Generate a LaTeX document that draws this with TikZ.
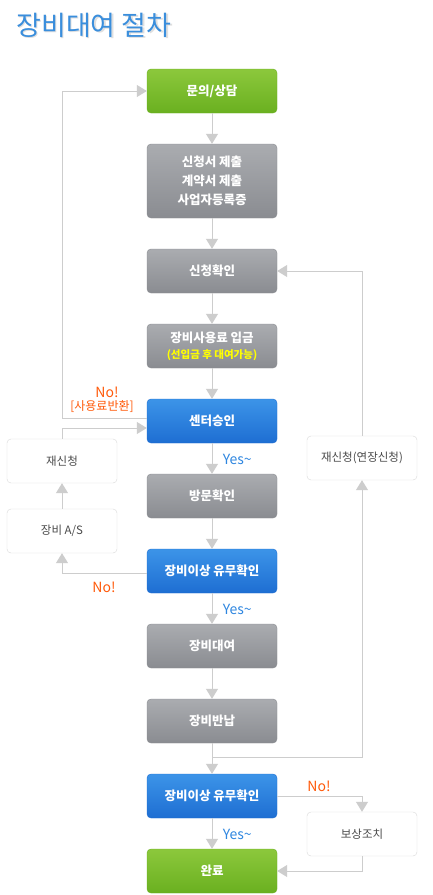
\documentclass[tikz,border=0pt]{standalone}
\usepackage{fontspec}
\setmainfont{Noto Sans CJK KR}
\usetikzlibrary{positioning}
\usetikzlibrary{arrows.meta}
\definecolor{greentop}{HTML}{8CC83C}
\definecolor{greenbot}{HTML}{6AB020}
\definecolor{graytop}{HTML}{AAACB0}
\definecolor{graybot}{HTML}{8A8C91}
\definecolor{bluetop}{HTML}{3C94E8}
\definecolor{bluebot}{HTML}{1E6ED2}
\definecolor{sideline}{HTML}{DADADA}
\definecolor{sidetext}{HTML}{4A4A4A}
\definecolor{edgegray}{HTML}{CDCDCD}
\definecolor{nored}{HTML}{FF5A0A}
\definecolor{yesblue}{HTML}{2E86E0}
\definecolor{titleblue}{HTML}{3A8EDC}
\definecolor{yel}{HTML}{FFFF00}
\tikzset{
    box/.style = {rectangle, rounded corners=4pt, minimum width=130pt, minimum height=44pt, align=center, text=white, font=\fontsize{12.5}{19}\selectfont\bfseries},
    greennode/.style = {box, top color=greentop, bottom color=greenbot, draw=greenbot},
    graynode/.style = {box, top color=graytop, bottom color=graybot, draw=graybot},
    bluenode/.style = {box, top color=bluetop, bottom color=bluebot, draw=bluebot},
    sidenode/.style = {rectangle, rounded corners=4pt, minimum width=110pt, minimum height=44pt, draw=sideline, fill=white, text=sidetext, font=\fontsize{11.5}{13}\selectfont},
    edgen/.style = {-{Triangle[width=12pt,length=10pt]}, line width=1pt, color=edgegray},
    no/.style = {text=nored, font=\fontsize{14}{16}\selectfont},
    yes/.style = {text=yesblue, font=\fontsize{14}{16}\selectfont, anchor=west, xshift=7pt, yshift=-1pt},
    title/.style = {font=\fontsize{27}{30}\selectfont, text=titleblue}
}
\begin{document}
\begin{tikzpicture}[x=1pt,y=-1pt]
\fill[white] (0,0) rectangle (432,895);
\useasboundingbox (0,0) rectangle (432,895);

\node[title, text=gray!25] at (95.5,26.5) (titleshadow) {장비대여 절차};
\node[title] at (94,25) (title) {장비대여 절차};

\node[greennode] at (212, 91) (1) {문의/상담};
\node[graynode, minimum height=74pt] at (212,181) (2) {신청서 제출\\계약서 제출\\사업자등록증};
\node[graynode] at (212,271) (3) {신청확인};
\node[graynode, font=\fontsize{12.5}{16}\selectfont\bfseries] at (212,346) (4) {장비사용료 입금\\{\color{yel}\fontsize{10.5}{12}\selectfont (선입금 후 대여가능)}};
\node[bluenode] at (212,421) (5) {센터승인};
\node[graynode] at (212,496) (6) {방문확인};
\node[bluenode] at (212,571) (7) {장비이상 유무확인};
\node[graynode] at (212,646) (8) {장비대여};
\node[graynode] at (212,721) (9) {장비반납};
\node[bluenode] at (212,796) (10) {장비이상 유무확인};
\node[greennode] at (212,871) (11) {완료};

\node[sidenode] at ( 62,461) (re) {재신청};
\node[sidenode] at ( 62,531) (as) {장비 A/S};
\node[sidenode] at (362,458) (ext) {재신청(연장신청)};
\node[sidenode] at (362,834) (comp) {보상조치};
\coordinate (join) at (212,757);

\draw[edgen] (1) edge (2);
\draw[edgen] (2) edge (3);
\draw[edgen] (3) edge (4);
\draw[edgen] (4) edge (5);
\draw[edgen] (5) edge node[yes] {Yes\textasciitilde} (6);
\draw[edgen] (6) edge (7);
\draw[edgen] (7) edge node[yes] {Yes\textasciitilde} (8);
\draw[edgen] (8) edge (9);
\draw[edgen] (9) edge (10);
\draw[edgen] (10) edge node[yes] {Yes\textasciitilde} (11);

\draw[edgen] ([yshift=3pt]5.west) -- ([yshift=3pt]5.west -| re.north) |- (1.west);
\draw[edgen] (re.north) |- ([yshift=-7pt]5.west);
\draw[edgen] (as) -- (re);
\draw[edgen] ([yshift=-2pt]7.west) -| (as.south);
\draw[edgen] (join) -| (ext.south);
\draw[edgen] (ext.north) |- (3.east);
\draw[edgen] (10.east) -| (comp.north);
\draw[edgen] (comp.south) |- (11.east);

\node[no] at (107,392) (no1) {No!};
\node[no, font=\fontsize{12}{14}\selectfont] at (102,407) (refund) {[사용료반환]};
\node[no] at (104,587) (no2) {No!};
\node[no] at (319,786) (no3) {No!};

\end{tikzpicture}
\end{document}
